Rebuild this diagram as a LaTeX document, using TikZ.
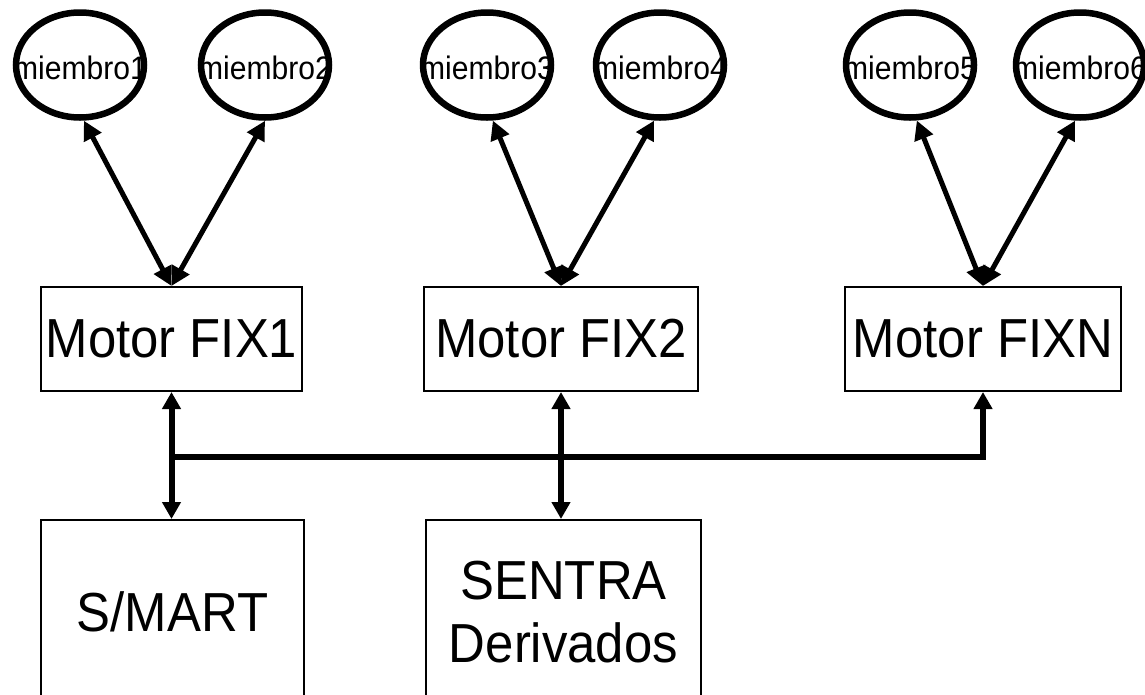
\documentclass[tikz,border=0pt]{standalone}
\usepackage{fontspec}
\setmainfont{Liberation Sans}[FakeStretch=0.925]
\usetikzlibrary{arrows.meta,shapes.geometric}
\begin{document}
\begin{tikzpicture}[x=1pt,y=-1pt,
  >={Triangle[length=17pt,width=18pt]},
  memb/.style={ellipse,draw,line width=6.5pt,minimum width=128pt,minimum height=105pt,inner sep=0pt},
  membtxt/.style={inner sep=0pt,font=\fontsize{32.5}{38}\selectfont},
  motor/.style={rectangle,draw,line width=2pt,minimum width=261pt,minimum height=104pt,inner sep=0pt,font=\fontsize{55}{63}\selectfont},
  sysbox/.style={rectangle,draw,line width=2pt,minimum height=184pt,inner sep=0pt,align=center,font=\fontsize{55}{63}\selectfont},
  link/.style={line width=5pt,{Triangle[length=19pt,width=19pt]}-{Triangle[length=19pt,width=19pt]}},
  bus/.style={line width=6pt,line join=miter}
]
\useasboundingbox (0,0) rectangle (1145,694);
\clip (0,0) rectangle (1145,694);

% members
\node[memb] (e1) at (80,65) {};
\node[memb] (e2) at (265,65) {};
\node[memb] (e3) at (487,65) {};
\node[memb] (e4) at (660,65) {};
\node[memb] (e5) at (910,65) {};
\node[memb] (e6) at (1080,65) {};
\node[membtxt,yshift=-3pt] (t1) at (e1) {miembro1};
\node[membtxt,yshift=-3pt] (t2) at (e2) {miembro2};
\node[membtxt,yshift=-3pt] (t3) at (e3) {miembro3};
\node[membtxt,yshift=-3pt] (t4) at (e4) {miembro4};
\node[membtxt,yshift=-3pt] (t5) at (e5) {miembro5};
\node[membtxt,yshift=-3pt] (t6) at (e6) {miembro6};

% motors
\node[motor] (m1) at (171.5,339) {Motor FIX1};
\node[motor,minimum width=274pt] (m2) at (561,339) {Motor FIX2};
\node[motor,minimum width=276pt] (mN) at (983,339) {Motor FIXN};

% systems
\node[sysbox,minimum width=263pt] (sm) at (172.5,612) {S/MART};
\node[sysbox,minimum width=275pt] (se) at (563.5,612) {SENTRA\\Derivados};

% member links
\draw[link] (m1.north) -- (e1.-86);
\draw[link] (m1.north) -- (e2.-90);
\draw[link] (m2.north) -- (e3.-84);
\draw[link] (m2.north) -- (e4.-96);
\draw[link] (mN.north) -- (e5.-83);
\draw[link] (mN.north) -- (e6.-95);

% bus
\coordinate (j) at (171.5,457);
\draw[bus,<->] (m1.south) -- (m1.south |- sm.north);
\draw[bus,<->] (m2.south) -- (m2.south |- se.north);
\draw[bus,->] (j) -| (mN.south);
\end{tikzpicture}
\end{document}
